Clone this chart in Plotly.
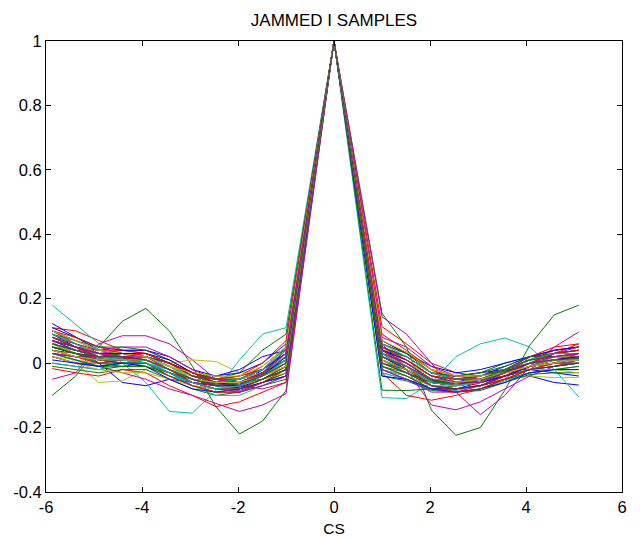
import plotly.graph_objects as go

# Sample positions (CS): left side, peak, right side
CS = [-5.87, -5.38, -4.9, -4.41, -3.92, -3.43, -2.95, -2.46, -1.97, -1.49, -1.0,
      0.0,
      1.0, 1.51, 2.03, 2.54, 3.05, 3.56, 4.08, 4.59, 5.1]

# Each trace: 11 left values, peak, 9 right values
r00 = [0.09, 0.05, 0.0, -0.06, -0.07, -0.05, -0.06, -0.08, -0.07, -0.02, 0.03, 1.0, 0.03, -0.02, -0.07, -0.08, -0.07, -0.05, -0.04, -0.06, -0.068]
r01 = [-0.10, -0.04, 0.05, 0.13, 0.17, 0.10, -0.01, -0.135, -0.22, -0.18, -0.085, 1.0, 0.155, 0.05, -0.146, -0.224, -0.2, -0.084, 0.056, 0.15, 0.18]
r02 = [0.11, 0.10, 0.07, 0.04, 0.03, 0.0, -0.03, -0.05, -0.04, -0.02, 0.03, 1.0, 0.113, 0.06, 0.0, -0.03, -0.04, -0.02, 0.02, 0.04, 0.05]
r03 = [0.18, 0.12, 0.06, 0.0, -0.06, -0.15, -0.155, -0.085, 0.01, 0.09, 0.11, 1.0, -0.107, -0.11, -0.06, 0.02, 0.06, 0.078, 0.05, -0.02, -0.105]
r04 = [-0.05, -0.03, 0.06, 0.085, 0.085, 0.06, 0.01, -0.05, -0.07, -0.08, -0.06, 1.0, 0.144, 0.09, 0.0, -0.09, -0.16, -0.1, -0.01, 0.05, 0.097]
r05 = [0.07, 0.0, -0.06, -0.055, -0.02, 0.0, 0.01, 0.005, -0.03, -0.02, 0.02, 1.0, 0.04, 0.035, -0.01, -0.05, -0.06, -0.05, -0.04, -0.045, -0.045]
r06 = [0.05, 0.03, 0.015, 0.015, 0.01, -0.02, -0.05, -0.065, -0.06, -0.035, 0.01, 1.0, 0.02, -0.01, -0.055, -0.06, -0.05, -0.025, 0.0, 0.008, 0.015]
r07 = [0.123, 0.08, 0.04, 0.03, 0.02, 0.0, -0.03, -0.04, -0.02, 0.02, 0.04, 1.0, 0.01, -0.03, -0.06, -0.04, -0.03, -0.02, -0.02, -0.03, -0.04]
r08 = [0.06, 0.04, 0.02, 0.02, 0.02, -0.01, -0.04, -0.05, -0.03, 0.04, 0.09, 1.0, -0.084, -0.085, -0.08, -0.07, -0.06, -0.04, -0.02, 0.0, 0.01]
r09 = [-0.017, -0.03, -0.04, -0.02, -0.03, -0.07, -0.1, -0.135, -0.12, -0.09, -0.06, 1.0, -0.03, -0.1, -0.115, -0.1, -0.08, -0.05, -0.02, 0.03, 0.06]
r10 = [0.08, 0.05, 0.02, 0.02, 0.01, -0.02, -0.05, -0.07, -0.07, -0.05, -0.02, 1.0, 0.01, -0.03, -0.07, -0.07, -0.05, -0.02, 0.01, 0.02, 0.02]
r11 = [0.03, 0.01, -0.01, -0.03, -0.05, -0.08, -0.1, -0.125, -0.15, -0.13, -0.095, 1.0, 0.06, -0.02, -0.13, -0.145, -0.12, -0.08, -0.04, -0.01, 0.0]
r12 = [0.02, 0.01, 0.0, 0.01, 0.0, -0.03, -0.06, -0.07, -0.06, -0.04, -0.01, 1.0, 0.03, 0.0, -0.04, -0.05, -0.05, -0.03, 0.0, 0.0, 0.01]
r13 = [0.06, 0.04, 0.02, 0.02, 0.02, -0.01, -0.04, -0.06, -0.05, -0.03, 0.02, 1.0, 0.0, -0.02, -0.06, -0.07, -0.06, -0.03, -0.01, 0.0, 0.01]
r14 = [0.04, 0.02, 0.01, 0.0, 0.0, -0.03, -0.07, -0.08, -0.075, -0.05, -0.02, 1.0, -0.02, -0.04, -0.07, -0.08, -0.07, -0.04, -0.02, 0.0, 0.0]
r15 = [0.08, 0.05, 0.03, 0.03, 0.02, -0.01, -0.04, -0.05, -0.05, -0.02, 0.03, 1.0, 0.05, 0.02, -0.03, -0.04, -0.03, 0.0, 0.02, 0.03, 0.04]
r16 = [0.1, 0.06, 0.03, 0.02, 0.02, -0.01, -0.05, -0.06, -0.05, -0.01, 0.05, 1.0, 0.06, 0.03, -0.02, -0.05, -0.05, -0.02, 0.01, 0.03, 0.03]
r17 = [0.03, 0.01, -0.01, 0.0, 0.0, -0.04, -0.07, -0.09, -0.08, -0.06, -0.03, 1.0, -0.03, -0.05, -0.08, -0.085, -0.07, -0.05, -0.03, -0.02, -0.01]
r18 = [0.07, 0.05, 0.03, 0.04, 0.04, 0.01, -0.03, -0.05, -0.06, -0.04, 0.0, 1.0, 0.02, -0.01, -0.05, -0.06, -0.06, -0.04, -0.01, 0.01, 0.03]
r19 = [0.09, 0.06, 0.02, 0.01, 0.01, -0.02, -0.04, -0.06, -0.06, -0.03, 0.01, 1.0, 0.05, 0.01, -0.04, -0.06, -0.05, -0.02, 0.01, 0.02, 0.03]
r20 = [0.0, -0.01, -0.02, -0.01, 0.0, -0.03, -0.06, -0.08, -0.08, -0.06, -0.04, 1.0, 0.0, -0.03, -0.07, -0.07, -0.06, -0.04, -0.02, -0.01, 0.0]
r21 = [0.07, 0.04, 0.02, 0.03, 0.02, 0.0, -0.04, -0.06, -0.06, -0.04, 0.0, 1.0, 0.04, 0.0, -0.05, -0.06, -0.04, -0.01, 0.02, 0.02, 0.02]
r22 = [0.05, 0.03, 0.01, 0.0, 0.01, -0.02, -0.05, -0.07, -0.07, -0.05, -0.01, 1.0, 0.02, -0.02, -0.06, -0.07, -0.06, -0.04, -0.02, -0.01, 0.0]
r23 = [0.03, 0.02, 0.02, 0.03, 0.03, 0.0, -0.03, -0.05, -0.04, -0.02, 0.04, 1.0, 0.07, 0.03, -0.02, -0.04, -0.04, -0.02, 0.01, 0.04, 0.05]
r24 = [0.06, 0.03, 0.0, 0.0, -0.01, -0.04, -0.06, -0.07, -0.065, -0.04, 0.0, 1.0, 0.01, -0.02, -0.06, -0.065, -0.06, -0.03, 0.0, 0.01, 0.02]
r25 = [0.04, 0.02, 0.0, 0.01, 0.01, -0.02, -0.06, -0.08, -0.085, -0.06, -0.03, 1.0, -0.01, -0.04, -0.08, -0.08, -0.07, -0.04, -0.01, 0.0, 0.02]
r26 = [0.05, 0.04, 0.03, 0.02, 0.01, -0.01, -0.03, -0.04, -0.05, -0.03, 0.02, 1.0, 0.03, 0.01, -0.03, -0.05, -0.05, -0.03, -0.01, 0.0, 0.0]
r27 = [0.08, 0.05, 0.02, 0.01, 0.0, -0.03, -0.06, -0.07, -0.06, -0.03, 0.02, 1.0, 0.03, 0.0, -0.05, -0.06, -0.05, -0.02, 0.01, 0.02, 0.02]
r28 = [0.02, 0.0, -0.01, 0.0, 0.0, -0.03, -0.06, -0.08, -0.07, -0.05, -0.02, 1.0, -0.02, -0.05, -0.08, -0.08, -0.06, -0.03, 0.0, 0.01, 0.01]
r29 = [0.1, 0.07, 0.04, 0.03, 0.02, 0.0, -0.03, -0.05, -0.05, -0.03, 0.01, 1.0, 0.04, 0.02, -0.03, -0.05, -0.04, -0.02, 0.01, 0.03, 0.04]
r30 = [0.06, 0.03, 0.01, 0.01, 0.01, -0.02, -0.06, -0.08, -0.08, -0.05, -0.02, 1.0, 0.0, -0.03, -0.07, -0.08, -0.07, -0.05, -0.02, -0.01, 0.01]
r31 = [0.05, 0.04, 0.02, 0.02, 0.02, -0.01, -0.05, -0.06, -0.06, -0.03, 0.02, 1.0, 0.03, 0.0, -0.04, -0.05, -0.05, -0.03, 0.0, 0.01, 0.02]
r32 = [0.02, 0.0, 0.0, 0.01, 0.02, -0.01, -0.04, -0.06, -0.05, -0.02, 0.03, 1.0, 0.05, 0.02, -0.03, -0.05, -0.04, -0.02, 0.02, 0.04, 0.05]
r33 = [0.04, 0.02, 0.0, 0.0, 0.0, -0.03, -0.06, -0.08, -0.08, -0.06, -0.02, 1.0, -0.02, -0.04, -0.07, -0.07, -0.06, -0.04, -0.02, 0.0, 0.01]
r34 = [0.07, 0.04, 0.02, 0.02, 0.01, -0.02, -0.05, -0.06, -0.06, -0.04, 0.01, 1.0, 0.02, -0.01, -0.05, -0.06, -0.05, -0.03, 0.0, 0.01, 0.02]
r35 = [0.09, 0.06, 0.03, 0.02, 0.02, -0.01, -0.04, -0.06, -0.05, -0.02, 0.03, 1.0, 0.04, 0.01, -0.04, -0.05, -0.04, -0.02, 0.01, 0.02, 0.03]
r36 = [0.03, 0.01, -0.01, -0.01, -0.01, -0.04, -0.07, -0.09, -0.09, -0.06, -0.03, 1.0, -0.01, -0.04, -0.08, -0.09, -0.08, -0.05, -0.03, -0.02, -0.01]
r37 = [0.07, 0.05, 0.04, 0.04, 0.03, 0.0, -0.03, -0.05, -0.05, -0.03, 0.01, 1.0, 0.02, -0.01, -0.05, -0.07, -0.06, -0.03, -0.01, 0.02, 0.03]
r38 = [0.04, 0.02, 0.01, 0.02, 0.02, -0.02, -0.05, -0.07, -0.07, -0.04, 0.0, 1.0, 0.02, -0.01, -0.06, -0.06, -0.05, -0.02, 0.01, 0.01, 0.01]
r39 = [0.06, 0.04, 0.02, 0.02, 0.01, -0.02, -0.05, -0.07, -0.07, -0.05, -0.01, 1.0, 0.01, -0.02, -0.06, -0.07, -0.06, -0.04, -0.01, 0.01, 0.01]
r40 = [0.08, 0.06, 0.03, 0.02, 0.01, -0.02, -0.04, -0.05, -0.05, -0.03, 0.0, 1.0, 0.02, 0.0, -0.04, -0.05, -0.04, -0.02, 0.0, 0.02, 0.02]
r41 = [0.03, 0.02, 0.01, 0.01, 0.01, -0.02, -0.05, -0.07, -0.07, -0.05, -0.01, 1.0, 0.01, -0.02, -0.06, -0.07, -0.06, -0.03, -0.01, 0.0, 0.01]
r42 = [0.05, 0.03, 0.01, 0.01, 0.0, -0.03, -0.06, -0.07, -0.07, -0.04, 0.0, 1.0, 0.02, -0.02, -0.06, -0.07, -0.06, -0.04, -0.01, 0.0, 0.01]
r43 = [0.06, 0.04, 0.02, 0.03, 0.03, 0.0, -0.04, -0.06, -0.06, -0.03, 0.01, 1.0, 0.03, 0.0, -0.05, -0.06, -0.05, -0.03, 0.0, 0.01, 0.02]
r44 = [0.04, 0.02, 0.0, 0.0, 0.0, -0.03, -0.06, -0.07, -0.06, -0.04, -0.01, 1.0, 0.01, -0.02, -0.06, -0.07, -0.06, -0.03, -0.01, 0.01, 0.02]
r45 = [0.07, 0.05, 0.03, 0.02, 0.02, -0.01, -0.04, -0.06, -0.06, -0.04, 0.01, 1.0, 0.02, -0.01, -0.05, -0.06, -0.05, -0.03, 0.0, 0.01, 0.02]
r46 = [0.05, 0.03, 0.02, 0.01, 0.0, -0.03, -0.05, -0.06, -0.06, -0.04, 0.0, 1.0, 0.03, 0.0, -0.05, -0.06, -0.05, -0.02, 0.0, 0.01, 0.02]
r47 = [0.06, 0.03, 0.01, 0.02, 0.02, -0.01, -0.04, -0.06, -0.06, -0.04, 0.0, 1.0, 0.01, -0.02, -0.06, -0.06, -0.05, -0.03, -0.01, 0.0, 0.01]
r48 = [0.05, 0.03, 0.02, 0.02, 0.01, -0.02, -0.05, -0.065, -0.06, -0.035, 0.01, 1.0, 0.02, -0.01, -0.055, -0.06, -0.05, -0.025, 0.0, 0.01, 0.015]
r49 = [0.11, 0.08, 0.05, 0.04, 0.04, 0.02, -0.02, -0.04, -0.03, 0.0, 0.06, 1.0, 0.07, 0.03, -0.01, -0.03, -0.02, 0.0, 0.02, 0.04, 0.05]
r50 = [-0.01, -0.02, -0.03, -0.02, -0.02, -0.05, -0.08, -0.1, -0.09, -0.07, -0.05, 1.0, -0.04, -0.055, -0.085, -0.09, -0.085, -0.06, -0.035, -0.03, -0.03]
r51 = [0.1, 0.08, 0.05, 0.03, 0.03, 0.0, -0.04, -0.05, -0.04, 0.0, 0.07, 1.0, 0.09, 0.04, -0.02, -0.06, -0.07, -0.05, 0.02, 0.05, 0.06]
r52 = [0.0, -0.01, -0.02, 0.0, 0.01, -0.03, -0.07, -0.1, -0.1, -0.07, -0.04, 1.0, -0.03, -0.05, -0.08, -0.09, -0.08, -0.055, -0.03, -0.02, -0.02]
r53 = [0.1, 0.07, 0.04, 0.05, 0.05, 0.02, -0.02, -0.05, -0.06, -0.04, 0.05, 1.0, 0.08, 0.05, -0.01, -0.04, -0.05, -0.03, 0.0, 0.03, 0.05]
r54 = [0.02, 0.0, -0.02, -0.03, -0.03, -0.05, -0.07, -0.08, -0.07, -0.05, -0.03, 1.0, 0.0, -0.03, -0.07, -0.07, -0.06, -0.03, -0.02, -0.02, -0.03]
r55 = [0.08, 0.06, 0.04, 0.03, 0.02, 0.0, -0.04, -0.06, -0.06, -0.03, 0.04, 1.0, 0.05, 0.02, -0.03, -0.05, -0.04, -0.02, 0.01, 0.03, 0.04]
r56 = [0.01, 0.0, -0.01, 0.0, -0.01, -0.05, -0.08, -0.09, -0.08, -0.06, -0.04, 1.0, -0.04, -0.05, -0.08, -0.09, -0.08, -0.06, -0.03, -0.02, -0.02]
r57 = [0.09, 0.07, 0.05, 0.05, 0.04, 0.01, -0.03, -0.05, -0.05, -0.02, 0.05, 1.0, 0.06, 0.03, -0.03, -0.04, -0.03, -0.01, 0.02, 0.03, 0.04]
r58 = [0.06, 0.04, 0.03, 0.02, 0.0, -0.04, -0.07, -0.09, -0.09, -0.06, -0.02, 1.0, 0.04, -0.01, -0.07, -0.09, -0.08, -0.05, -0.02, 0.0, 0.03]
r59 = [0.09, 0.06, 0.02, 0.01, 0.0, -0.02, -0.05, -0.06, -0.05, -0.02, 0.04, 1.0, 0.06, 0.02, -0.03, -0.05, -0.05, -0.02, 0.01, 0.03, 0.03]
r60 = [0.03, 0.02, 0.02, 0.02, 0.02, -0.02, -0.06, -0.08, -0.09, -0.07, -0.04, 1.0, -0.02, -0.05, -0.09, -0.09, -0.07, -0.04, -0.01, 0.0, 0.0]
r61 = [0.1, 0.07, 0.04, 0.03, 0.02, -0.01, -0.03, -0.04, -0.04, -0.01, 0.05, 1.0, 0.07, 0.035, -0.02, -0.04, -0.04, -0.03, -0.01, 0.0, 0.02]
r62 = [0.04, 0.03, 0.01, 0.0, 0.0, -0.03, -0.06, -0.08, -0.08, -0.05, -0.02, 1.0, 0.0, -0.03, -0.07, -0.08, -0.07, -0.04, -0.02, -0.01, 0.0]
r63 = [0.07, 0.05, 0.03, 0.03, 0.03, 0.01, -0.03, -0.06, -0.07, -0.04, 0.02, 1.0, 0.04, 0.01, -0.04, -0.06, -0.06, -0.04, -0.01, 0.01, 0.02]
r64 = [0.05, 0.03, 0.0, -0.01, -0.01, -0.03, -0.05, -0.06, -0.06, -0.05, -0.02, 1.0, -0.01, -0.03, -0.06, -0.06, -0.05, -0.02, 0.01, 0.02, 0.03]
r65 = [0.08, 0.05, 0.02, 0.02, 0.03, 0.0, -0.03, -0.06, -0.06, -0.03, 0.03, 1.0, 0.05, 0.01, -0.04, -0.05, -0.05, -0.04, 0.0, 0.03, 0.04]
r66 = [0.06, 0.04, 0.02, 0.01, 0.0, -0.03, -0.06, -0.08, -0.07, -0.04, 0.01, 1.0, 0.03, -0.01, -0.06, -0.07, -0.06, -0.03, 0.0, 0.01, 0.01]
r67 = [0.07, 0.05, 0.03, 0.02, 0.01, -0.02, -0.05, -0.07, -0.06, -0.03, 0.03, 1.0, 0.04, 0.0, -0.05, -0.06, -0.06, -0.03, 0.0, 0.02, 0.03]
r68 = [0.04, 0.02, 0.01, 0.01, 0.01, -0.02, -0.05, -0.06, -0.06, -0.04, -0.01, 1.0, 0.02, -0.01, -0.05, -0.06, -0.05, -0.03, -0.01, 0.01, 0.01]
r69 = [0.06, 0.04, 0.02, 0.02, 0.01, -0.02, -0.05, -0.07, -0.065, -0.04, 0.0, 1.0, 0.02, -0.01, -0.05, -0.065, -0.055, -0.03, 0.0, 0.01, 0.015]

SAMPLES = [r00, r01, r02, r03, r04, r05, r06, r07, r08, r09,
           r10, r11, r12, r13, r14, r15, r16, r17, r18, r19,
           r20, r21, r22, r23, r24, r25, r26, r27, r28, r29,
           r30, r31, r32, r33, r34, r35, r36, r37, r38, r39,
           r40, r41, r42, r43, r44, r45, r46, r47, r48, r49,
           r50, r51, r52, r53, r54, r55, r56, r57, r58, r59,
           r60, r61, r62, r63, r64, r65, r66, r67, r68, r69]

X_TICKS = [-6, -4, -2, 0, 2, 4, 6]
X_LABELS = ["-6", "-4", "-2", "0", "2", "4", "6"]
Y_TICKS = [-0.4, -0.2, 0, 0.2, 0.4, 0.6, 0.8, 1]
Y_LABELS = ["-0.4", "-0.2", "0", "0.2", "0.4", "0.6", "0.8", "1"]

# MATLAB classic colour order: b g r c m y k
COLOR_ORDER = ["#0000FF", "#008000", "#FF0000", "#00BFBF", "#BF00BF", "#BFBF00", "#404040"]

FONT = "Liberation Sans, Arial, Helvetica, sans-serif"

# the page body adds an 8px margin; size the figure so it fills the window
W, H = 632, 530

fig = go.Figure()
for i, vals in enumerate(SAMPLES):
    fig.add_trace(go.Scatter(
        x=CS, y=vals, mode="lines",
        line=dict(color=COLOR_ORDER[i % len(COLOR_ORDER)], width=1),
        showlegend=False, hoverinfo="skip",
    ))

axis_common = dict(
    showline=True, linecolor="black", linewidth=1, mirror="ticks",
    ticks="inside", ticklen=5, tickcolor="black", tickwidth=1,
    showgrid=False, zeroline=False, automargin=False,
    tickfont=dict(family=FONT, size=16.5, color="black"),
)

fig.update_layout(
    width=W, height=H,
    margin=dict(l=38, r=18, t=33, b=46),
    paper_bgcolor="white", plot_bgcolor="white",
    title=dict(text="JAMMED I SAMPLES", x=326 / W, xanchor="center",
               y=1 - 12 / H, yanchor="middle", yref="container",
               font=dict(family=FONT, size=17, color="black")),
    xaxis=dict(range=[-6, 6], tickvals=X_TICKS, ticktext=X_LABELS,
               title=dict(text="CS", font=dict(family=FONT, size=15.5, color="black"), standoff=8),
               **axis_common),
    yaxis=dict(range=[-0.4, 1], tickvals=Y_TICKS, ticktext=Y_LABELS, **axis_common),
)

fig.write_html("out.html")
